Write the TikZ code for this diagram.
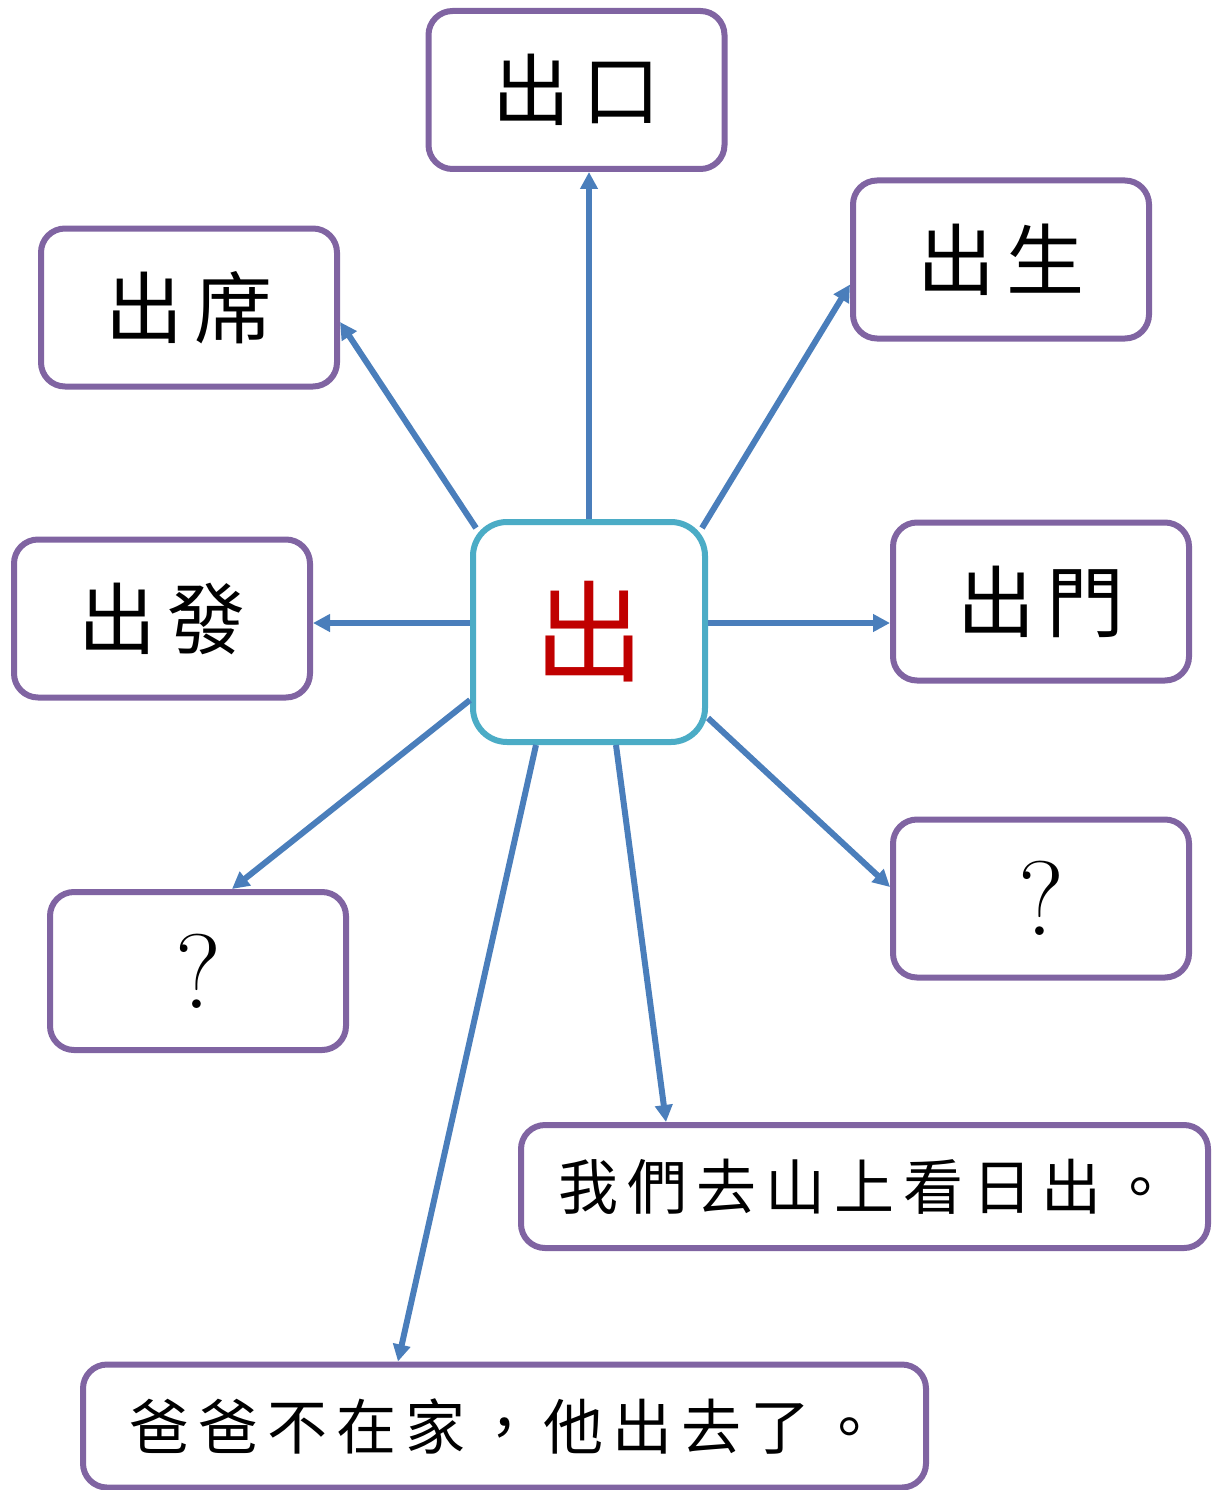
\documentclass[tikz,border=0pt]{standalone}
\usepackage{fontspec}
\newfontfamily\cjk{Noto Sans CJK TC}
\usetikzlibrary{arrows.meta}
\definecolor{boxpurple}{HTML}{8064A2}
\definecolor{centerteal}{HTML}{4BACC6}
\definecolor{arrowblue}{HTML}{4A7EBB}
\definecolor{charred}{HTML}{C00000}
\newcommand{\wordgap}{\hspace{12pt}}
\newcommand{\sgap}{\hspace{9pt}}
\begin{document}
\begin{tikzpicture}[x=1pt,y=-1pt,
  box/.style={draw=boxpurple, line width=6pt, rounded corners=24pt, fill=white, inner sep=0pt,
    minimum width=296pt, minimum height=158pt},
  sentbox/.style={draw=boxpurple, line width=6pt, rounded corners=24pt, fill=white, inner sep=0pt,
    minimum height=123pt},
  centerbox/.style={draw=centerteal, line width=6pt, rounded corners=34pt, fill=white, inner sep=0pt,
    minimum width=232pt, minimum height=220pt},
  word/.style={font=\cjk\fontsize{78}{80}\selectfont},
  sent/.style={font=\cjk\fontsize{60}{62}\selectfont},
  qmark/.style={font=\fontsize{106}{110}\selectfont},
  link/.style={draw=arrowblue, line width=6pt, -{Triangle[length=17pt,width=17pt]}}]
\useasboundingbox (0,0) rectangle (1219,1490);

\node[centerbox, font=\cjk\fontsize{110}{112}\selectfont, text=charred] (c) at (589,632) {\raisebox{7pt}{出}};

\node[box, word] (k1) at (576.5,90) {出\wordgap 口};
\node[box, word] (k2) at (1001,259.5) {出\wordgap 生};
\node[box, word] (k3) at (189,307.5) {出\wordgap 席};
\node[box, word] (k4) at (162,618.5) {出\wordgap 發};
\node[box, word] (k5) at (1041,601.5) {出\wordgap 門};
\node[box, qmark] (k6) at (1041,898.5) {?};
\node[box, qmark] (k7) at (198,971) {?};
\node[sentbox, sent, minimum width=687pt] (s1) at (864.5,1186.5) {我\sgap 們\sgap 去\sgap 山\sgap 上\sgap 看\sgap 日\sgap 出\sgap 。};
\node[sentbox, sent, minimum width=843pt] (s2) at (504.5,1426) {爸\sgap 爸\sgap 不\sgap 在\sgap 家\sgap ，\sgap 他\sgap 出\sgap 去\sgap 了\sgap 。};

\draw[link] (c.north) -- (c.north |- k1.south);
\draw[link] ([xshift=-6pt,yshift=-9pt]c.north east) -- ([yshift=-25pt]k2.west);
\draw[link] ([xshift=6pt,yshift=-9pt]c.north west) -- ([yshift=-14.5pt]k3.east);
\draw[link] ([yshift=9pt]c.west) -- ([yshift=-4.5pt]k4.east);
\draw[link] ([yshift=9pt]c.east) -- ([yshift=-21.5pt]k5.west);
\draw[link] ([yshift=-86pt]c.east) -- ([yshift=11.5pt]k6.west);
\draw[link] ([yshift=-68pt]c.west) -- ([xshift=34pt]k7.north);
\draw[link] ([xshift=27pt]c.south) -- ([xshift=-198.5pt]s1.north);
\draw[link] ([xshift=-53pt]c.south) -- ([xshift=-106.5pt]s2.north);
\end{tikzpicture}
\end{document}
